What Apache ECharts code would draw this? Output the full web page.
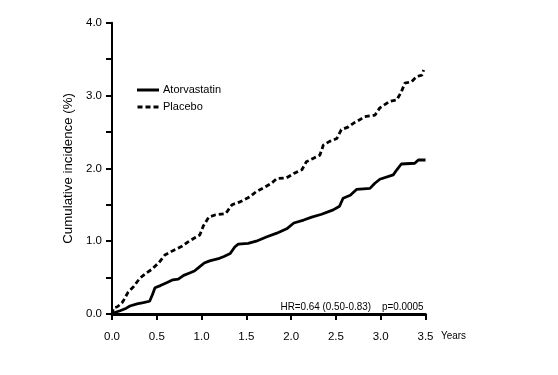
<!DOCTYPE html>
<html>
<head>
<meta charset="utf-8">
<script src="https://cdn.jsdelivr.net/npm/echarts@6/dist/echarts.min.js"></script>
<style>html,body{margin:0;padding:0;background:#fff}#c{width:558px;height:375px}</style>
</head>
<body>
<div id="c"></div>
<script>
const FONT = "'Liberation Sans',Arial,sans-serif";
const xTicks = [0, 0.5, 1, 1.5, 2, 2.5, 3, 3.5];
const yTicks = [0, 1, 2, 3, 4];
const seriesNames = ['Atorvastatin', 'Placebo'];
const atorvaT = [0,0.03,0.09,0.16,0.2,0.28,0.35,0.42,0.45,0.48,0.54,0.61,0.68,0.74,0.8,0.86,0.92,0.98,1.03,1.09,1.2,1.25,1.32,1.37,1.41,1.52,1.61,1.73,1.84,1.95,2.03,2.14,2.23,2.34,2.47,2.54,2.58,2.66,2.73,2.88,2.935,2.99,3.14,3.18,3.23,3.38,3.42,3.5];
const atorvaV = [0,0.02,0.045,0.08,0.11,0.14,0.155,0.175,0.26,0.36,0.39,0.43,0.47,0.48,0.53,0.56,0.59,0.65,0.70,0.73,0.765,0.79,0.83,0.92,0.96,0.97,1.0,1.06,1.11,1.17,1.25,1.29,1.33,1.37,1.43,1.48,1.59,1.63,1.71,1.725,1.795,1.85,1.91,1.98,2.06,2.07,2.115,2.115];
const placeboT = [0,0.015,0.06,0.11,0.13,0.18,0.24,0.31,0.38,0.44,0.52,0.59,0.68,0.78,0.85,0.93,0.98,1.02,1.08,1.15,1.27,1.34,1.43,1.54,1.61,1.69,1.78,1.84,1.95,2.03,2.08,2.12,2.17,2.25,2.32,2.36,2.43,2.51,2.56,2.64,2.71,2.77,2.82,2.935,2.99,3.1,3.18,3.23,3.27,3.345,3.4,3.46,3.48];
const placeboV = [0,0.08,0.1,0.15,0.19,0.3,0.375,0.49,0.56,0.61,0.70,0.81,0.87,0.93,0.99,1.05,1.085,1.21,1.33,1.36,1.38,1.5,1.54,1.61,1.68,1.73,1.795,1.86,1.87,1.93,1.96,1.98,2.09,2.14,2.18,2.32,2.37,2.41,2.53,2.57,2.63,2.67,2.71,2.73,2.83,2.92,2.94,3.05,3.17,3.19,3.26,3.28,3.35];
const hrText = 'HR=0.64 (0.50-0.83)';
const pText = 'p=0.0005';
const xName = 'Years';
const yName = 'Cumulative incidence (%)';

const zip = (a, b) => a.map((t, i) => [t, b[i]]);
const chart = echarts.init(document.getElementById('c'), null, {renderer: 'canvas'});
chart.setOption({
  animation: false,
  backgroundColor: '#fff',
  textStyle: {fontFamily: FONT, color: '#000'},
  grid: {left: 112, right: 132.5, top: 22.7, bottom: 61, containLabel: false},
  legend: {
    left: 132, top: 78, orient: 'vertical', itemGap: 3, itemWidth: 22, itemHeight: 3,
    textStyle: {fontFamily: FONT, fontSize: 11, color: '#000', padding: [0, 0, 0, -1], lineHeight: 14},
    data: [
      {name: seriesNames[0], icon: 'rect', itemStyle: {color: '#000'}},
      {name: seriesNames[1], icon: 'path://M0,0h5v3h-5zM8,0h5v3h-5zM16,0h5v3h-5z', itemStyle: {color: '#000'}}
    ]
  },
  xAxis: {
    type: 'value', min: 0, max: 3.5, interval: 0.5, offset: 4,
    axisLine: {show: true, lineStyle: {color: '#000', width: 3}},
    axisTick: {show: true, length: 6, lineStyle: {color: '#000', width: 2}},
    splitLine: {show: false},
    axisLabel: {color: '#000', fontFamily: FONT, fontSize: 11.5, margin: 13,
      formatter: v => xTicks.includes(v) ? v.toFixed(1) : ''}
  },
  yAxis: {
    type: 'value', min: 0, max: 4, interval: 0.5, offset: 2,
    name: yName, nameLocation: 'middle', nameGap: 31,
    nameTextStyle: {fontFamily: FONT, fontSize: 13.3, color: '#000'},
    axisLine: {show: true, lineStyle: {color: '#000', width: 2}},
    axisTick: {show: true, length: 6, lineStyle: {color: '#000', width: 2}},
    splitLine: {show: false},
    axisLabel: {color: '#000', fontFamily: FONT, fontSize: 11.5, margin: 8,
      formatter: v => yTicks.includes(v) ? v.toFixed(1) : ''}
  },
  series: [
    {name: seriesNames[0], type: 'line', symbol: 'none', data: zip(atorvaT, atorvaV),
     lineStyle: {color: '#000', width: 2.8, type: 'solid'}, itemStyle: {color: '#000'}},
    {name: seriesNames[1], type: 'line', symbol: 'none', data: zip(placeboT, placeboV),
     lineStyle: {color: '#000', width: 2.8, type: [5, 3]}, itemStyle: {color: '#000'}}
  ],
  graphic: [
    {type: 'text', x: 280.5, y: 301, scaleX: 0.86, style: {text: hrText, font: '11.5px ' + FONT, fill: '#000'}},
    {type: 'text', x: 382, y: 301, scaleX: 0.86, style: {text: pText, font: '11.5px ' + FONT, fill: '#000'}},
    {type: 'text', x: 441, y: 330, scaleX: 0.86, style: {text: xName, font: '11.5px ' + FONT, fill: '#000'}}
  ]
});
</script>
</body>
</html>
